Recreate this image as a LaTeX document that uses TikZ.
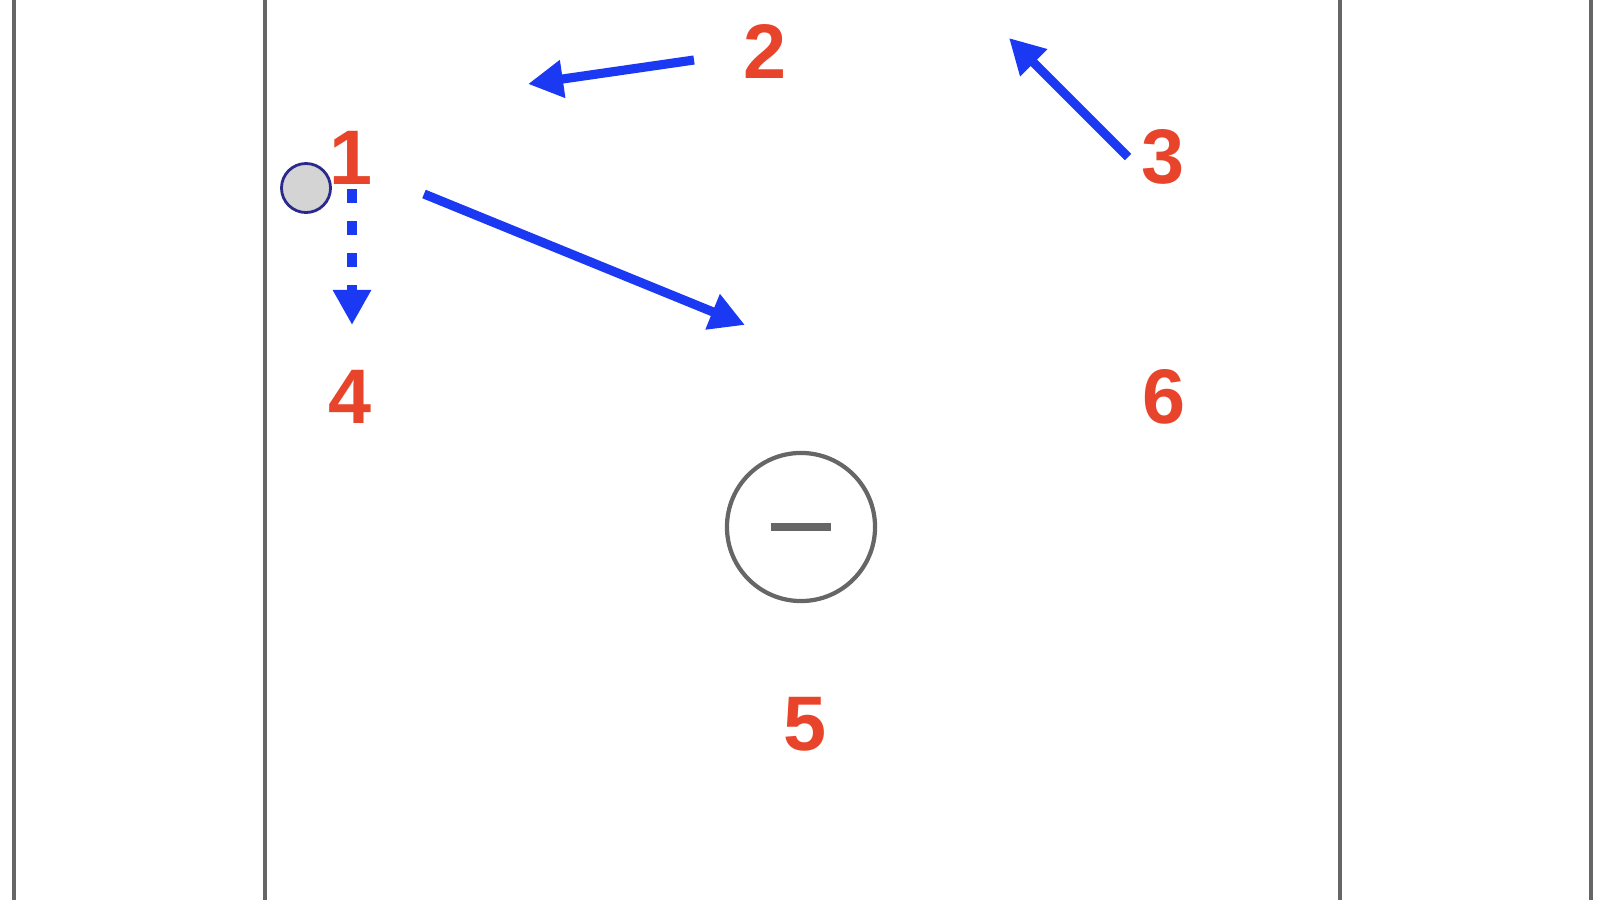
\documentclass[tikz,border=0pt]{standalone}
\usepackage{fontspec}
\setmainfont{Liberation Sans}
\usetikzlibrary{arrows.meta}

\definecolor{playerred}{HTML}{E8442B}
\definecolor{passblue}{HTML}{1B38F2}
\definecolor{linegray}{HTML}{666666}
\definecolor{ballgray}{HTML}{D4D4D4}
\definecolor{ballnavy}{HTML}{2B2A8C}

\begin{document}
\begin{tikzpicture}[x=0.01cm, y=-0.01cm]

    %--------------------%
    % Parameters
    %--------------------%
    \def\linethic{1.2pt}
    \def\arrowthic{2.6pt}
    \def\goalsize{1.48cm}
    \def\ballsize{0.49cm}

    \tikzset{
        player/.style={text=playerred, font=\fontsize{22}{22}\selectfont\bfseries, inner sep=0pt},
        pass/.style={-{Triangle[length=0.35cm, width=0.36cm]}, passblue, line width=\arrowthic},
        run/.style={pass, dash pattern=on 0.14cm off 0.18cm}
    }

    \useasboundingbox (0,0) rectangle (1600,900);

    %--------------------%
    % Field lines
    %--------------------%
    \draw[linegray, line width=\linethic] (14,0) -- (14,900);
    \draw[linegray, line width=\linethic] (265,0) -- (265,900);
    \draw[linegray, line width=\linethic] (1340,0) -- (1340,900);
    \draw[linegray, line width=\linethic] (1591,0) -- (1591,900);

    %--------------------%
    % Goal and ball
    %--------------------%
    \node[draw=linegray, circle, minimum size=\goalsize, line width=\linethic] (goal) at (801,527) {};
    \draw[linegray, line width=0.08cm] ([xshift=-0.3cm]goal.center) -- ([xshift=0.3cm]goal.center);
    \node[draw=ballnavy, fill=ballgray, circle, minimum size=\ballsize, line width=0.8pt] (ball) at (306,188) {};

    %--------------------%
    % Players
    %--------------------%
    \node[player] (p1) at (351,158) {1};
    \node[player] (p2) at (765,51) {2};
    \node[player] (p3) at (1163,157) {3};
    \node[player] (p4) at (350,397) {4};
    \node[player] (p5) at (805,724) {5};
    \node[player] (p6) at (1164,397) {6};

    %--------------------%
    % Passes and runs
    %--------------------%
    \coordinate (a1s) at (424,194);
    \coordinate (a1e) at (745,325);
    \coordinate (a2s) at (694,60);
    \coordinate (a2e) at (528,84);
    \coordinate (a3s) at (1128,157);
    \coordinate (a3e) at (1009,38);
    \coordinate (r1s) at (352,189);
    \coordinate (r1e) at (352,325);

    \draw[pass] (a1s) -- (a1e);
    \draw[pass] (a2s) -- (a2e);
    \draw[pass] (a3s) -- (a3e);
    \draw[run] (r1s) -- (r1e);
\end{tikzpicture}
\end{document}
